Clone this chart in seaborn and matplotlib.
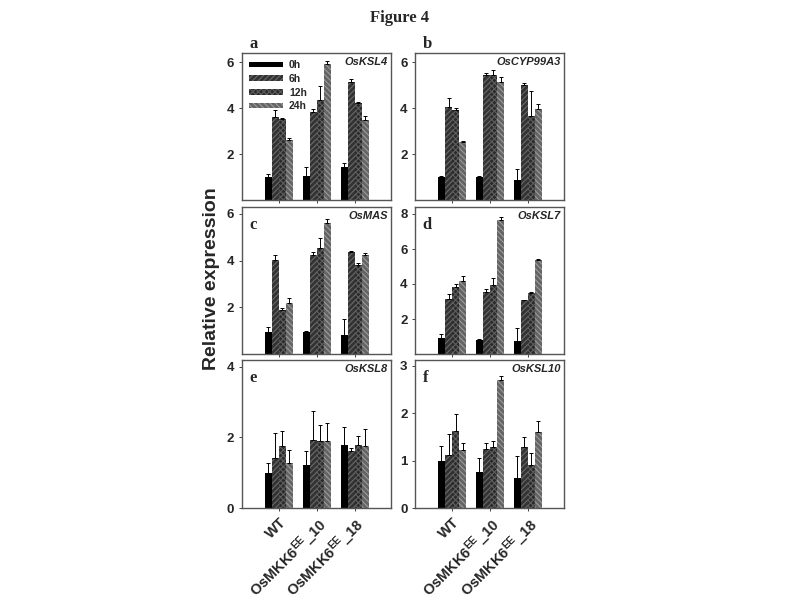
"""
Figure 4: relative expression of diterpenoid genes in WT and OsMKK6EE lines
"""

import pandas as pd
import matplotlib
matplotlib.use('Agg')
import matplotlib.pyplot as plt
import seaborn as sns

sns.set_style("ticks")
plt.rcParams['font.family'] = ['Liberation Sans', 'DejaVu Sans']
plt.rcParams['font.weight'] = 'bold'
plt.rcParams['hatch.linewidth'] = 0.8
plt.rcParams['mathtext.default'] = 'regular'

# ----------------------------------------------------------------------------
# Data
# ----------------------------------------------------------------------------
lines = ['WT', 'OsMKK6$^{EE}$_10', 'OsMKK6$^{EE}$_18']
times = ['0h', '6h', '12h', '24h']
letters = ['a', 'b', 'c', 'd', 'e', 'f']
genes = ['OsKSL4', 'OsCYP99A3', 'OsMAS', 'OsKSL7', 'OsKSL8', 'OsKSL10']

# values per gene: rows = lines, cols = time points
ksl4 = [[1.0, 3.62, 3.52, 2.61], [1.05, 3.85, 4.36, 5.93], [1.42, 5.14, 4.22, 3.49]]
ksl4_err = [[0.14, 0.28, 0.05, 0.10], [0.38, 0.10, 0.62, 0.12], [0.18, 0.13, 0.04, 0.15]]
cyp = [[0.98, 4.04, 3.91, 2.53], [1.0, 5.45, 5.45, 5.12], [0.86, 5.02, 3.64, 3.96]]
cyp_err = [[0.05, 0.42, 0.10, 0.05], [0.03, 0.07, 0.20, 0.23], [0.48, 0.07, 1.10, 0.22]]
mas = [[0.96, 4.03, 1.87, 2.19], [0.96, 4.25, 4.55, 5.62], [0.81, 4.38, 3.81, 4.25]]
mas_err = [[0.19, 0.22, 0.10, 0.22], [0.02, 0.14, 0.43, 0.15], [0.68, 0.04, 0.07, 0.07]]
ksl7 = [[0.93, 3.15, 3.85, 4.17], [0.80, 3.54, 3.92, 7.65], [0.76, 3.08, 3.48, 5.40]]
ksl7_err = [[0.20, 0.28, 0.13, 0.28], [0.03, 0.15, 0.42, 0.15], [0.70, 0.03, 0.05, 0.04]]
ksl8 = [[0.99, 1.43, 1.75, 1.29], [1.21, 1.93, 1.90, 1.90], [1.79, 1.62, 1.79, 1.77]]
ksl8_err = [[0.28, 0.69, 0.42, 0.36], [0.40, 0.82, 0.45, 0.50], [0.52, 0.08, 0.24, 0.47]]
ksl10 = [[0.99, 1.13, 1.62, 1.22], [0.76, 1.24, 1.28, 2.70], [0.63, 1.28, 0.91, 1.60]]
ksl10_err = [[0.31, 0.43, 0.36, 0.16], [0.29, 0.13, 0.14, 0.09], [0.47, 0.23, 0.25, 0.24]]

values = [ksl4, cyp, mas, ksl7, ksl8, ksl10]
errors = [ksl4_err, cyp_err, mas_err, ksl7_err, ksl8_err, ksl10_err]
ylims = [(0, 6.4), (0, 6.4), (0, 6.3), (0, 8.4), (0, 4.2), (0, 3.13)]
yticks = [[2, 4, 6], [2, 4, 6], [2, 4, 6], [2, 4, 6, 8], [0, 2, 4], [0, 1, 2, 3]]

colors = ['#000000', '#333333', '#2a2a2a', '#646464']
hatches = [None, '//////', 'xxxxxx', '\\\\\\\\\\\\']
hatch_cols = ['#000000', '#6a6a6a', '#5e5e5e', '#9c9c9c']

# ----------------------------------------------------------------------------
# Figure layout
# ----------------------------------------------------------------------------
fig = plt.figure(figsize=(8, 6), dpi=100)
lefts = [0.3025, 0.519]
bottoms = [0.6667, 0.41, 0.1533]
heights = [0.245, 0.245, 0.247]
w = 0.186

for i in range(6):
    r, c = divmod(i, 2)
    ax = fig.add_axes([lefts[c], bottoms[r], w, heights[r]])

    df = pd.DataFrame([
        {'line': lines[li], 'time': times[ti], 'val': values[i][li][ti]}
        for li in range(3) for ti in range(4)
    ])
    sns.barplot(data=df, x='line', y='val', hue='time', order=lines,
                hue_order=times, palette=colors, width=0.74, saturation=1,
                errorbar=None, legend=False, ax=ax)

    bar_groups = list(ax.containers)
    for ti, cont in enumerate(bar_groups):
        for li, bar in enumerate(cont):
            bar.set_linewidth(0)
            if hatches[ti]:
                bar.set_hatch(hatches[ti])
                bar.set_edgecolor(hatch_cols[ti])
            x = bar.get_x() + bar.get_width() / 2
            ax.errorbar(x, bar.get_height(), yerr=[[0], [errors[i][li][ti]]],
                        fmt='none', ecolor='black', elinewidth=0.7,
                        capsize=1.6, capthick=0.7)

    ax.set_xlim(-0.97, 2.95)
    ax.set_ylim(*ylims[i])
    ax.set_yticks(yticks[i])
    ax.set_ylabel('')
    ax.set_xlabel('')
    ax.tick_params(axis='y', labelsize=9.5, length=2, width=0.6)
    ax.tick_params(axis='x', length=2, width=0.6)
    for sp in ax.spines.values():
        sp.set_visible(True)
        sp.set_color('#555555')
        sp.set_linewidth(1)

    if r == 2:
        ax.set_xticks(range(3))
        ax.set_xticklabels(lines, rotation=45, ha='right',
                           rotation_mode='anchor', fontsize=10.5,
                           fontweight='bold')
    else:
        ax.set_xticklabels([])

    # gene name
    ax.text(0.98, 0.97, genes[i], transform=ax.transAxes, ha='right',
            va='top', fontsize=8, fontweight='bold', fontstyle='italic')
    # panel letter
    if r == 0:
        ax.text(0.05, 1.01, letters[i], transform=ax.transAxes, ha='left',
                va='bottom', fontsize=12, fontweight='bold',
                family='Liberation Serif')
    else:
        ax.text(0.05, 0.93, letters[i], transform=ax.transAxes, ha='left',
                va='top', fontsize=12, fontweight='bold',
                family='Liberation Serif')

    if i == 0:
        handles = [plt.Rectangle((0, 0), 1, 1, facecolor=colors[k],
                                 hatch=hatches[k], edgecolor=hatch_cols[k],
                                 linewidth=0) for k in range(4)]
        ax.legend(handles, times, loc='upper left', frameon=False,
                  handlelength=3.2, handleheight=0.45,
                  labelspacing=0.35, borderaxespad=0.3, handletextpad=0.6,
                  prop={'weight': 'bold', 'size': 7.5})

fig.text(0.5, 0.97, 'Figure 4', ha='center', va='center', fontsize=12,
         fontweight='bold', family='Liberation Serif')
fig.text(0.265, 0.535, 'Relative expression', ha='center', va='center',
         rotation=90, fontsize=14, fontweight='bold')

plt.savefig('out.png', dpi=100)
print("Saved: out.png")
